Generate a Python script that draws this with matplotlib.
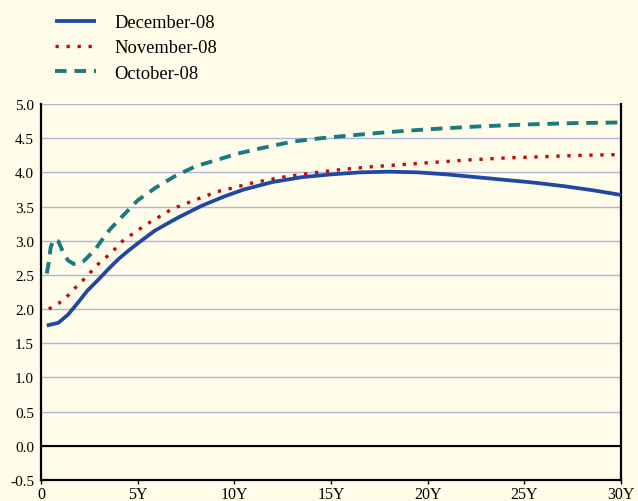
import matplotlib
matplotlib.use("Agg")
import matplotlib.pyplot as plt

# yield curves (maturity in years, yield %)
dec_x = [0.3, 0.9, 1.4, 1.9, 2.4, 3.0, 3.5, 4.0, 4.5, 5.0, 5.9, 7.1, 8.3, 9.5, 10.5,
         12.0, 13.5, 15.0, 16.5, 18.0, 19.5, 21.0, 22.5, 24.0, 25.5, 27.0, 28.5, 30.0]
dec_y = [1.76, 1.80, 1.92, 2.09, 2.27, 2.44, 2.59, 2.73, 2.85, 2.96, 3.15, 3.34, 3.51, 3.65, 3.75,
         3.86, 3.93, 3.97, 4.00, 4.01, 4.00, 3.97, 3.93, 3.89, 3.85, 3.80, 3.74, 3.67]

nov_x = [0.4, 0.9, 1.4, 1.8, 2.2, 2.6, 3.0, 3.5, 3.9, 4.3, 4.8, 5.3, 5.8, 6.3, 6.8, 7.4, 7.9,
         8.5, 9.0, 9.6, 11.0, 12.5, 14.0, 15.5, 17.0, 18.5, 20.0, 22.0, 24.0, 26.0, 28.0, 30.0]
nov_y = [2.00, 2.08, 2.20, 2.32, 2.43, 2.55, 2.67, 2.79, 2.90, 3.02, 3.11, 3.21, 3.30, 3.38, 3.47, 3.53, 3.59,
         3.65, 3.71, 3.75, 3.85, 3.93, 3.99, 4.04, 4.08, 4.11, 4.14, 4.18, 4.21, 4.23, 4.25, 4.26]

oct_x = [0.3, 0.4, 0.5, 0.65, 0.9, 1.1, 1.4, 1.7, 1.9, 2.2, 2.45, 2.85, 3.2, 3.55, 4.15, 5.0,
         5.9, 6.9, 8.0, 9.2, 10.1, 11.5, 13.0, 14.5, 16.0, 18.0, 20.0, 22.5, 25.0, 27.5, 30.0]
oct_y = [2.52, 2.68, 2.90, 3.02, 2.99, 2.86, 2.71, 2.66, 2.66, 2.70, 2.77, 2.89, 3.03, 3.16, 3.34, 3.59,
         3.77, 3.94, 4.09, 4.19, 4.27, 4.36, 4.45, 4.50, 4.54, 4.59, 4.63, 4.67, 4.70, 4.72, 4.73]

xticks = [0, 5, 10, 15, 20, 25, 30]
xtick_labels = ["0", "5Y", "10Y", "15Y", "20Y", "25Y", "30Y"]
yticks = [-0.5, 0.0, 0.5, 1.0, 1.5, 2.0, 2.5, 3.0, 3.5, 4.0, 4.5, 5.0]

bg = "#FFFDEA"
plt.rcParams["font.family"] = ["Liberation Serif", "DejaVu Serif"]

fig = plt.figure(figsize=(6.38, 5.02), dpi=100, facecolor=bg)
ax = fig.add_axes([41 / 638, 1 - 481 / 502, 580 / 638, 376 / 502])
ax.set_facecolor(bg)

ax.plot(dec_x, dec_y, color="#1F47A3", lw=2.7, label="December-08",
        solid_capstyle="butt", solid_joinstyle="round", zorder=4)
ax.plot(nov_x, nov_y, color="#C40A0A", lw=2.4, linestyle=(0, (1, 2.3)),
        label="November-08", zorder=3)
ax.plot(oct_x, oct_y, color="#1A7A80", lw=2.8, linestyle=(0, (3, 2)),
        label="October-08", zorder=3)

ax.axhline(0, color="black", lw=1.5, zorder=2)
ax.set_xlim(0, 30)
ax.set_ylim(-0.5, 5.0)
ax.set_xticks(xticks)
ax.set_xticklabels(xtick_labels)
ax.set_yticks(yticks)
ax.set_yticklabels([f"{v:.1f}" for v in yticks])
ax.yaxis.grid(True, color="#AFB5D8", lw=1.0, zorder=1)
ax.set_axisbelow(True)

ax.tick_params(axis="y", length=0, pad=5, labelsize=11)
ax.tick_params(axis="x", length=3, width=1, direction="out", pad=1, labelsize=11.5)

for side in ["left", "bottom", "right"]:
    ax.spines[side].set_linewidth(1.6)
    ax.spines[side].set_color("black")
ax.spines["top"].set_visible(False)

fig.legend(loc="upper left", bbox_to_anchor=(55 / 638, 1 - 15 / 502),
           frameon=False, fontsize=13.3, handlelength=2.2, handletextpad=1.0,
           labelspacing=0.45, borderpad=0, borderaxespad=0)

fig.savefig("out.png", dpi=100, facecolor=bg)
